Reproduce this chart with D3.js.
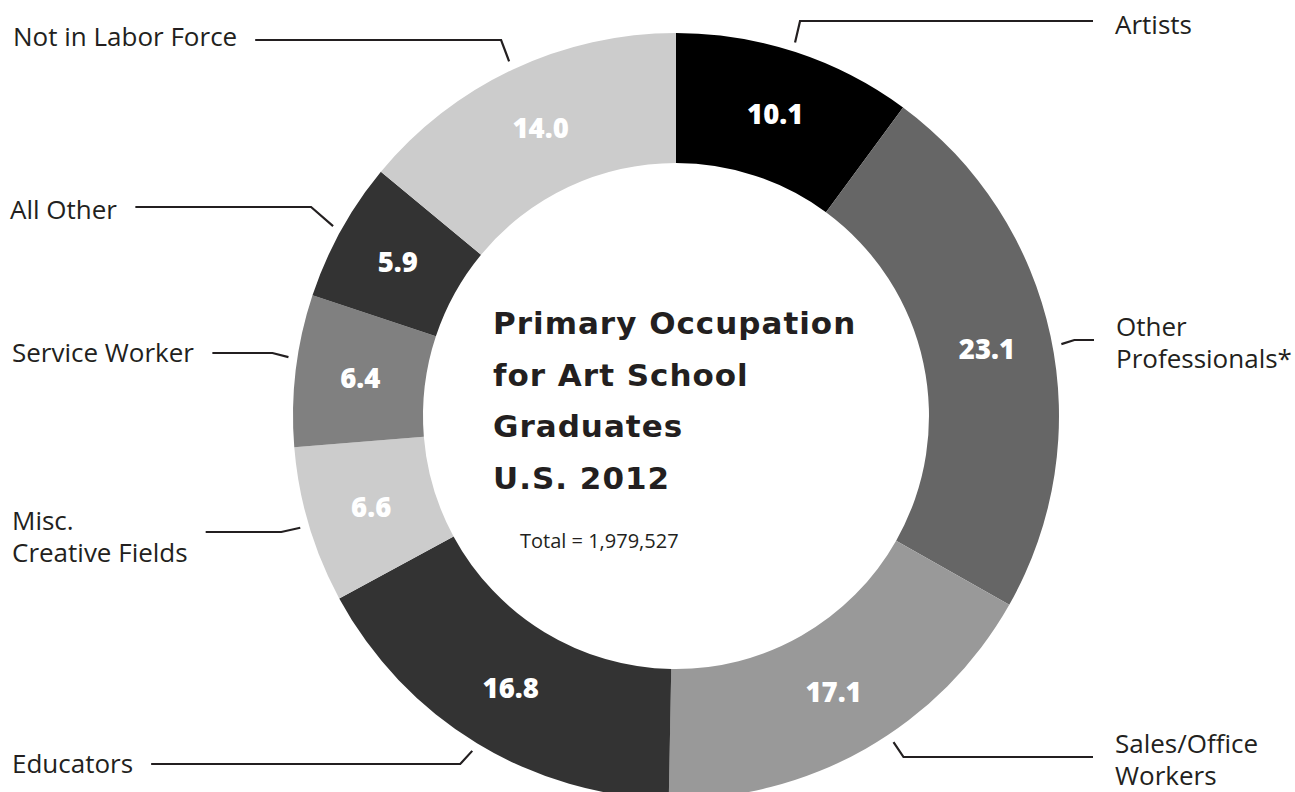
<!DOCTYPE html>
<html>
<head>
<meta charset="utf-8">
<script src="https://cdn.jsdelivr.net/npm/d3@7"></script>
<style>
  html, body { margin: 0; padding: 0; background: #fff; }
  svg { display: block; }
</style>
</head>
<body>
<svg id="chart" width="1295" height="792"></svg>
<script>
// ---- data ----
const categories = ["Artists", "Other Professionals*", "Sales/Office Workers", "Educators",
                    "Misc. Creative Fields", "Service Worker", "All Other", "Not in Labor Force"];
const values = [10.1, 23.1, 17.1, 16.8, 6.6, 6.4, 5.9, 14.0];
const labelLines = [["Artists"], ["Other", "Professionals*"], ["Sales/Office", "Workers"], ["Educators"],
                    ["Misc.", "Creative Fields"], ["Service Worker"], ["All Other"], ["Not in Labor Force"]];
const titleLines = ["Primary Occupation", "for Art School", "Graduates", "U.S. 2012"];
const totalText = "Total = 1,979,527";

// ---- styles / layout ----
const colors = ["#000000", "#666666", "#999999", "#333333", "#cccccc", "#808080", "#333333", "#cccccc"];
const ink = "#231f20";
const cx = 676, cy = 416, rOuter = 383, rInner = 253;
// label layout: side, text x, first baseline, leader y, elbow dx from end, angle offset (deg)
const labelLayout = [
  { side: "right", x: 1115, y: 34,  ly: 21,  edx: 5,   da: -0.5 },
  { side: "right", x: 1116, y: 336, ly: 340, edx: 13,  da: 1.5 },
  { side: "right", x: 1115, y: 753, ly: 757, edx: 10,  da: -4 },
  { side: "left",  x: 12,   y: 773, ly: 764, edx: -12, da: 0 },
  { side: "left",  x: 12,   y: 530, ly: 532, edx: -19, da: 0 },
  { side: "left",  x: 12,   y: 362, ly: 353, edx: -16, da: 1.8 },
  { side: "left",  x: 10,   y: 219, ly: 207, edx: -22, da: 0 },
  { side: "left",  x: 13,   y: 46,  ly: 40,  edx: -8,  da: 0 }
];

const svg = d3.select("#chart");
const g = svg.append("g").attr("transform", `translate(${cx},${cy})`);

const pie = d3.pie().sort(null).value(d => d.value);
const data = pie(categories.map((c, i) => ({ name: c, value: values[i], i })));
const arc = d3.arc().innerRadius(rInner).outerRadius(rOuter);

g.selectAll("path.slice").data(data).join("path")
  .attr("class", "slice")
  .attr("d", arc)
  .attr("fill", d => colors[d.data.i]);

g.selectAll("text.val").data(data).join("text")
  .attr("class", "val")
  .attr("transform", d => `translate(${arc.centroid(d)})`)
  .attr("text-anchor", "middle")
  .attr("dy", "0.36em")
  .attr("fill", "#fff")
  .style("font-family", "'Open Sans', sans-serif")
  .style("font-weight", 800)
  .style("font-size", "27.5px")
  .text(d => values[d.data.i].toFixed(1));

// labels + leader lines
const labelFont = "'Open Sans', sans-serif";
data.forEach(d => {
  const i = d.data.i;
  const L = labelLayout[i];
  let maxRight = L.x;
  labelLines[i].forEach((line, k) => {
    const t = svg.append("text")
      .attr("x", L.x).attr("y", L.y + k * 31.5)
      .attr("fill", ink)
      .style("font-family", labelFont)
      .style("font-size", "26px")
      .text(line);
    const bb = t.node().getBBox();
    maxRight = Math.max(maxRight, bb.x + bb.width);
  });
  const mid = (d.startAngle + d.endAngle) / 2 + L.da * Math.PI / 180;
  const rEnd = rOuter + 9;
  const ex = cx + rEnd * Math.sin(mid), ey = cy - rEnd * Math.cos(mid);
  const elbowX = ex + L.edx;
  const farX = L.side === "left" ? maxRight + 18 : L.x - 22;
  svg.append("path")
    .attr("d", d3.line()([[farX, L.ly], [elbowX, L.ly], [ex, ey]]))
    .attr("fill", "none")
    .attr("stroke", ink)
    .attr("stroke-width", 2.2);
});

// center title
titleLines.forEach((line, k) => {
  svg.append("text")
    .attr("x", 493).attr("y", 334 + k * 51.5)
    .attr("fill", ink)
    .style("font-family", "'DejaVu Sans', sans-serif")
    .style("font-weight", 700)
    .style("font-size", "31px")
    .style("letter-spacing", "1px")
    .text(line);
});
svg.append("text")
  .attr("x", 520).attr("y", 548)
  .attr("fill", ink)
  .style("font-family", "'Open Sans', sans-serif")
  .style("font-size", "20px")
  .text(totalText);
</script>
</body>
</html>
